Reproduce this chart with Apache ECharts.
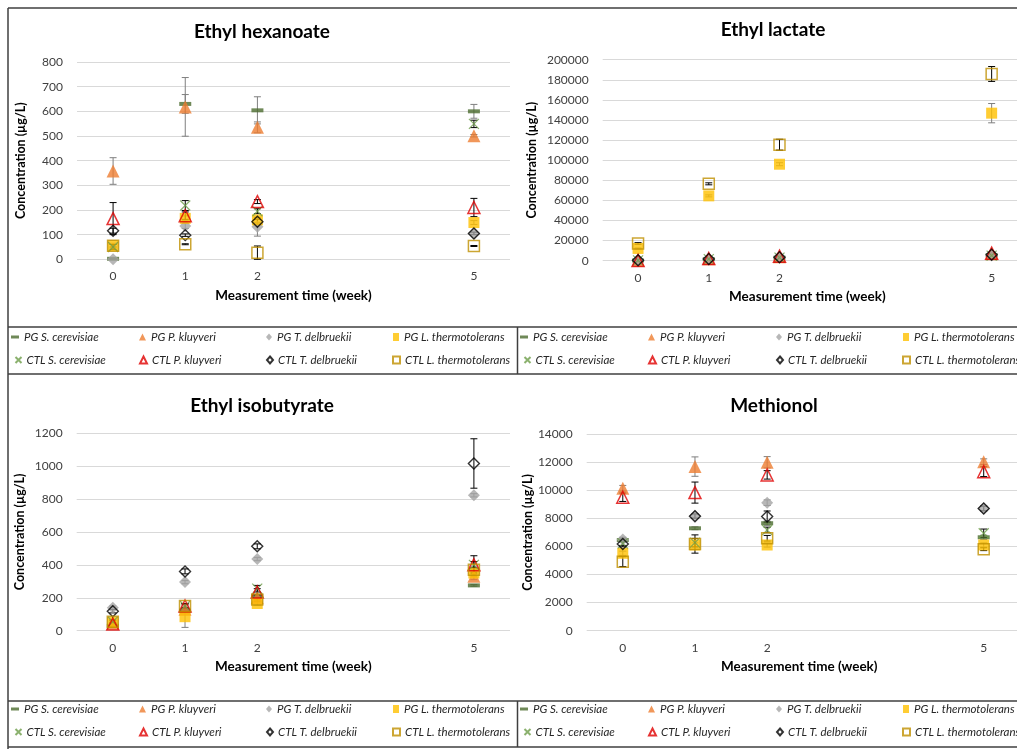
<!DOCTYPE html>
<html><head><meta charset="utf-8">
<script src="https://cdn.jsdelivr.net/npm/echarts@6/dist/echarts.min.js"></script>
<style>html,body{margin:0;padding:0;background:#fff;overflow:hidden;width:1017px;height:749px}#c{width:1030px;height:749px}</style>
</head><body><div id="c"></div>
<script>
// ---------------- data ----------------
const weeks = [0, 1, 2, 5];
const weekTickLabels = ['0', '1', '2', '5'];
const seriesNames = [
  'PG S. cerevisiae', 'PG P. kluyveri', 'PG T. delbruekii', 'PG L. thermotolerans',
  'CTL S. cerevisiae', 'CTL P. kluyveri', 'CTL T. delbruekii', 'CTL L. thermotolerans'
];
const panelTitles = ['Ethyl hexanoate', 'Ethyl lactate', 'Ethyl isobutyrate', 'Methionol'];
const yAxisTitle = 'Concentration (µg/L)';
const xAxisTitle = 'Measurement time (week)';

// rows follow seriesNames, columns follow weeks
const hexanoateValues = [
  [2, 630, 604, 600],
  [358, 618, 535, 501],
  [0, 135, 132, 105],
  [55, 166, 160, 149],
  [50, 218, 195, 549],
  [165, 177, 234, 210],
  [116, 98, 152, 105],
  [55, 61, 27, 54]
];
const hexanoateErrors = [
  [3, 38, 55, 28],
  [54, 119, 22, 5],
  [2, 10, 38, 5],
  [10, 10, 10, 8],
  [10, 20, 10, 15],
  [65, 15, 8, 37],
  [10, 5, 10, 5],
  [5, 2, 27, 2]
];
const lactateValues = [
  [200, 1500, 3000, 5500],
  [400, 2000, 4000, 7000],
  [500, 1800, 3500, 5500],
  [12200, 64500, 96000, 146800],
  [300, 1500, 3000, 5000],
  [300, 2200, 4500, 7500],
  [400, 1800, 3500, 6000],
  [17200, 76500, 115400, 185800]
];
const lactateErrors = [
  [200, 300, 400, 500],
  [200, 400, 500, 800],
  [200, 300, 400, 500],
  [500, 1000, 1500, 9600],
  [200, 300, 400, 500],
  [200, 400, 500, 800],
  [200, 300, 400, 600],
  [800, 1000, 5400, 7400]
];
const isobutyrateValues = [
  [30, 122, 210, 275],
  [45, 130, 200, 330],
  [140, 295, 435, 822],
  [50, 85, 165, 350],
  [55, 150, 255, 400],
  [40, 150, 235, 400],
  [118, 360, 512, 1015],
  [55, 150, 190, 370]
];
const isobutyrateErrors = [
  [5, 5, 10, 5],
  [8, 10, 10, 20],
  [10, 10, 10, 10],
  [10, 65, 10, 20],
  [10, 15, 20, 20],
  [10, 15, 20, 55],
  [10, 15, 15, 150],
  [10, 10, 10, 15]
];
const methionolValues = [
  [6450, 7290, 7650, 6650],
  [10140, 11680, 11990, 12030],
  [6500, 8190, 9110, 8700],
  [5510, 6100, 6100, 6100],
  [6220, 6270, 7170, 6935],
  [9500, 9830, 11090, 11320],
  [6170, 8150, 8120, 8700],
  [4910, 6170, 6580, 5800]
];
const methionolErrors = [
  [150, 100, 150, 150],
  [200, 690, 400, 200],
  [150, 150, 200, 200],
  [150, 150, 150, 150],
  [150, 300, 200, 300],
  [300, 750, 300, 350],
  [200, 150, 400, 150],
  [350, 650, 200, 100]
];
const yMaxes = [800, 200000, 1200, 14000];
const yIntervals = [100, 20000, 200, 2000];

// ---------------- styles / layout ----------------
const FONT = 'Lato, "Open Sans", sans-serif';
const W = 1030; // canvas is a bit wider than the window; the right edge is cropped like the reference
const xPath = 'path://M0,0L10,10M10,0L0,10';
const markerStyles = [
  { symbol: 'rect', size: [12, 4], itemStyle: { color: '#4b6b2e' }, icon: [8, 3] },
  { symbol: 'triangle', size: 13, itemStyle: { color: '#ed7d31' }, icon: [7, 7] },
  { symbol: 'diamond', size: 12, itemStyle: { color: '#a5a5a5' }, icon: [6, 7] },
  { symbol: 'rect', size: 11, itemStyle: { color: '#ffc000' }, icon: [6, 8] },
  { symbol: xPath, size: 10, itemStyle: { color: 'none', borderColor: '#6e9e4a', borderWidth: 1.2 }, icon: [6, 8] },
  { symbol: 'triangle', size: 12, itemStyle: { color: 'transparent', borderColor: '#e00000', borderWidth: 1.5 }, icon: [7, 7] },
  { symbol: 'diamond', size: 11, itemStyle: { color: 'transparent', borderColor: '#000', borderWidth: 1.4 }, icon: [6, 7] },
  { symbol: 'rect', size: 11, itemStyle: { color: 'transparent', borderColor: '#bf9000', borderWidth: 1.5 }, icon: [7, 7] }
];
const panels = [
  { values: hexanoateValues, errors: hexanoateErrors, grid: { left: 77, top: 62, right: W - 510, bottom: 489.7 }, nameGapY: 50, titleXY: [262, 32], legendX: [24, 151, 277, 404], legendY: [337, 360], xNamePad: [0, 0, 0, 0] },
  { values: lactateValues, errors: lactateErrors, grid: { left: 602.7, top: 59.7, right: W - 1027, bottom: 488.3 }, nameGapY: 64, titleXY: [773, 30], legendX: [533, 660, 787, 914], legendY: [337, 360], xNamePad: [0, 15, 0, 0] },
  { values: isobutyrateValues, errors: isobutyrateErrors, grid: { left: 76.7, top: 433, right: W - 510, bottom: 118.3 }, nameGapY: 50, titleXY: [262, 406], legendX: [24, 151, 277, 404], legendY: [709, 732], xNamePad: [0, 0, 0, 0] },
  { values: methionolValues, errors: methionolErrors, grid: { left: 586.7, top: 434, right: W - 1019.8, bottom: 118.3 }, nameGapY: 50, titleXY: [774, 406], legendX: [533, 660, 787, 914], legendY: [709, 732], xNamePad: [0, 8, 0, 0] }
];

const grids = [], xAxes = [], yAxes = [], series = [], legends = [], graphics = [];

panels.forEach((p, pi) => {
  grids.push(Object.assign({ containLabel: false, outerBoundsMode: 'none' }, p.grid));
  xAxes.push({
    type: 'value', gridIndex: pi, min: -0.5, max: 5.5, interval: 0.5,
    axisLine: { show: false }, axisTick: { show: false }, splitLine: { show: false },
    axisLabel: {
      margin: 11, fontSize: 12, color: '#404040', fontFamily: FONT,
      formatter: v => { const k = weeks.indexOf(v); return k >= 0 ? weekTickLabels[k] : ''; }
    },
    name: xAxisTitle, nameLocation: 'middle', nameGap: 29,
    nameTextStyle: { fontSize: 13.5, fontWeight: 'bold', color: '#000', fontFamily: FONT, padding: p.xNamePad }
  });
  yAxes.push({
    type: 'value', gridIndex: pi, min: 0, max: yMaxes[pi], interval: yIntervals[pi],
    axisLine: { show: false }, axisTick: { show: false },
    splitLine: { show: true, lineStyle: { color: '#d9d9d9', width: 1 } },
    axisLabel: { margin: 14, fontSize: 12, color: '#404040', fontFamily: FONT, formatter: v => String(v) },
    name: yAxisTitle, nameLocation: 'middle', nameGap: p.nameGapY,
    nameTextStyle: { fontSize: 12.5, fontWeight: 'bold', color: '#000', fontFamily: FONT }
  });
  // error bars
  const errData = [];
  p.values.forEach((row, si) => row.forEach((v, wi) => errData.push([weeks[wi], v, p.errors[si][wi], si])));
  series.push({
    type: 'custom', xAxisIndex: pi, yAxisIndex: pi, z: 2, silent: true,
    data: errData,
    renderItem: (params, api) => {
      const x = api.value(0), v = api.value(1), e = api.value(2), k = api.value(3);
      const t = api.coord([x, v + e]), b = api.coord([x, Math.max(0, v - e)]);
      const col = k < 4 ? '#7f7f7f' : '#000';
      const st = { stroke: col, lineWidth: 1 };
      return { type: 'group', children: [
        { type: 'line', shape: { x1: t[0], y1: t[1], x2: b[0], y2: b[1] }, style: st },
        { type: 'line', shape: { x1: t[0] - 3.5, y1: t[1], x2: t[0] + 3.5, y2: t[1] }, style: st },
        { type: 'line', shape: { x1: b[0] - 3.5, y1: b[1], x2: b[0] + 3.5, y2: b[1] }, style: st }
      ] };
    }
  });
  p.values.forEach((row, si) => {
    const m = markerStyles[si];
    series.push({
      type: 'scatter', name: seriesNames[si], xAxisIndex: pi, yAxisIndex: pi, z: 3,
      symbol: m.symbol, symbolSize: m.size, itemStyle: m.itemStyle,
      data: row.map((v, wi) => [weeks[wi], v])
    });
    const col = si % 4, r = si < 4 ? 0 : 1;
    legends.push({
      data: [seriesNames[si]], selectedMode: false,
      left: p.legendX[col] - m.icon[0] - 5, top: p.legendY[r] - 7,
      itemWidth: m.icon[0], itemHeight: m.icon[1], padding: 0,
      textStyle: { fontSize: 11.5, fontStyle: 'italic', color: '#262626', fontFamily: FONT, lineHeight: 14 }
    });
  });
  graphics.push({
    type: 'text', x: p.titleXY[0], y: p.titleXY[1],
    style: { text: panelTitles[pi], font: 'bold 19px ' + FONT, fill: '#000', align: 'center', verticalAlign: 'middle', textAlign: 'center', textVerticalAlign: 'middle' }
  });
});

// frame lines
const lineCol = '#3f3f3f';
const frameLines = [
  [8, 8, 8, 749], [8, 8, W, 8],
  [8, 327, W, 327], [8, 374, W, 374], [517.5, 327, 517.5, 374],
  [8, 701, W, 701], [8, 747, W, 747], [517.5, 701, 517.5, 747]
];
frameLines.forEach(l => graphics.push({
  type: 'line', shape: { x1: l[0], y1: l[1], x2: l[2], y2: l[3] }, style: { stroke: lineCol, lineWidth: 1.5 }, z: 10
}));

const chart = echarts.init(document.getElementById('c'), null, { renderer: 'canvas' });
chart.setOption({
  animation: false,
  backgroundColor: '#fff',
  grid: grids, xAxis: xAxes, yAxis: yAxes,
  legend: legends, series: series, graphic: graphics
});
</script></body></html>
